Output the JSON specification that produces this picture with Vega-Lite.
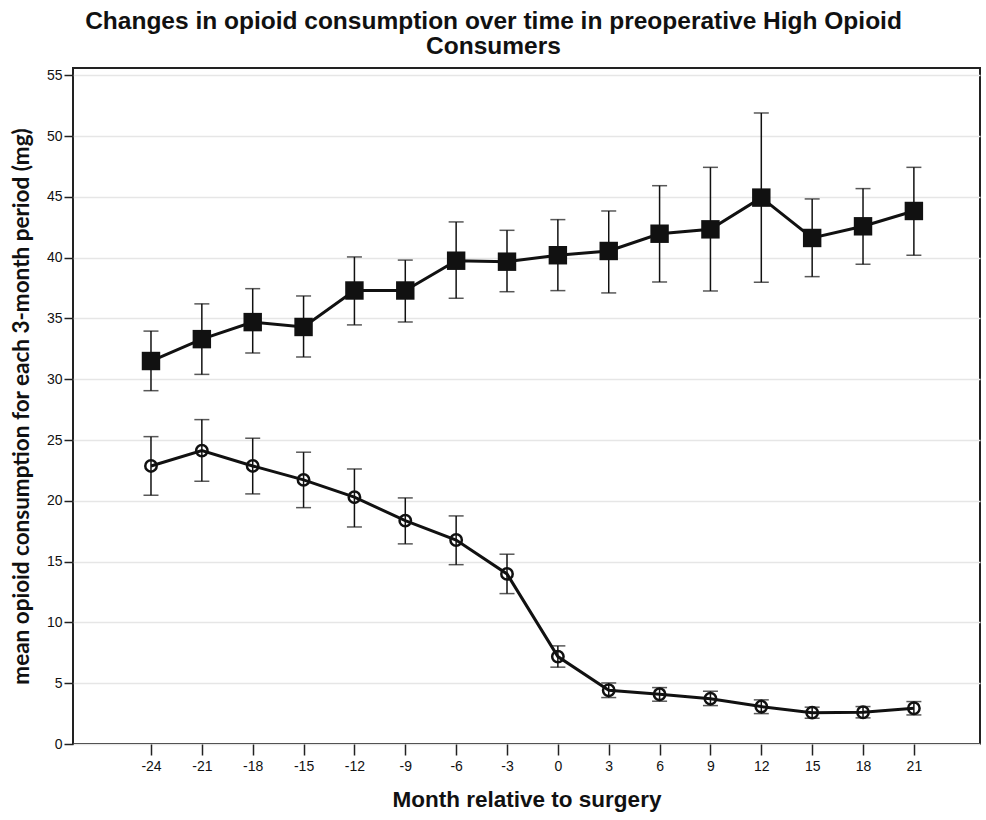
{
  "$schema": "https://vega.github.io/schema/vega-lite/v6.json",
  "autosize": {"type": "none"},
  "width": 907,
  "height": 676,
  "padding": {"left": 73, "top": 68, "right": 6, "bottom": 76},
  "background": "white",
  "title": {
    "text": ["Changes in opioid consumption over time in preoperative High Opioid", "Consumers"],
    "anchor": "middle",
    "frame": "group",
    "dx": -33,
    "offset": 9,
    "font": "Liberation Sans",
    "fontSize": 24.5,
    "fontWeight": "bold",
    "lineHeight": 25,
    "color": "#111"
  },
  "config": {
    "view": {"stroke": "#222", "strokeWidth": 2},
    "axis": {
      "labelFont": "Liberation Sans",
      "labelFontSize": 14,
      "labelColor": "#111",
      "tickColor": "#222",
      "tickWidth": 1.5,
      "titleColor": "#111"
    }
  },
  "data": {
    "values": [
      {"month": -24, "group": "upper", "mean": 31.5, "lo": 29.06, "hi": 33.96},
      {"month": -21, "group": "upper", "mean": 33.3, "lo": 30.4, "hi": 36.2},
      {"month": -18, "group": "upper", "mean": 34.7, "lo": 32.16, "hi": 37.45},
      {"month": -15, "group": "upper", "mean": 34.3, "lo": 31.83, "hi": 36.85},
      {"month": -12, "group": "upper", "mean": 37.3, "lo": 34.47, "hi": 40.06},
      {"month": -9, "group": "upper", "mean": 37.3, "lo": 34.71, "hi": 39.8},
      {"month": -6, "group": "upper", "mean": 39.75, "lo": 36.66, "hi": 42.94},
      {"month": -3, "group": "upper", "mean": 39.67, "lo": 37.2, "hi": 42.25},
      {"month": 0, "group": "upper", "mean": 40.2, "lo": 37.29, "hi": 43.13},
      {"month": 3, "group": "upper", "mean": 40.55, "lo": 37.1, "hi": 43.84},
      {"month": 6, "group": "upper", "mean": 41.97, "lo": 38.0, "hi": 45.92},
      {"month": 9, "group": "upper", "mean": 42.33, "lo": 37.26, "hi": 47.43},
      {"month": 12, "group": "upper", "mean": 44.94, "lo": 37.98, "hi": 51.9},
      {"month": 15, "group": "upper", "mean": 41.62, "lo": 38.44, "hi": 44.83},
      {"month": 18, "group": "upper", "mean": 42.58, "lo": 39.46, "hi": 45.68},
      {"month": 21, "group": "upper", "mean": 43.84, "lo": 40.2, "hi": 47.43},
      {"month": -24, "group": "lower", "mean": 22.87, "lo": 20.46, "hi": 25.28},
      {"month": -21, "group": "lower", "mean": 24.13, "lo": 21.61, "hi": 26.68},
      {"month": -18, "group": "lower", "mean": 22.87, "lo": 20.57, "hi": 25.15},
      {"month": -15, "group": "lower", "mean": 21.72, "lo": 19.44, "hi": 24.0},
      {"month": -12, "group": "lower", "mean": 20.3, "lo": 17.85, "hi": 22.62},
      {"month": -9, "group": "lower", "mean": 18.37, "lo": 16.46, "hi": 20.24},
      {"month": -6, "group": "lower", "mean": 16.78, "lo": 14.75, "hi": 18.76},
      {"month": -3, "group": "lower", "mean": 13.99, "lo": 12.37, "hi": 15.61},
      {"month": 0, "group": "lower", "mean": 7.19, "lo": 6.32, "hi": 8.07},
      {"month": 3, "group": "lower", "mean": 4.42, "lo": 3.82, "hi": 5.02},
      {"month": 6, "group": "lower", "mean": 4.09, "lo": 3.52, "hi": 4.64},
      {"month": 9, "group": "lower", "mean": 3.73, "lo": 3.16, "hi": 4.34},
      {"month": 12, "group": "lower", "mean": 3.08, "lo": 2.5, "hi": 3.63},
      {"month": 15, "group": "lower", "mean": 2.58, "lo": 2.12, "hi": 3.03},
      {"month": 18, "group": "lower", "mean": 2.61, "lo": 2.15, "hi": 3.08},
      {"month": 21, "group": "lower", "mean": 2.94, "lo": 2.39, "hi": 3.49}
    ]
  },
  "encoding": {
    "x": {
      "field": "month",
      "type": "quantitative",
      "scale": {"domain": [-28.6, 24.9], "nice": false, "zero": false},
      "axis": {
        "values": [-24, -21, -18, -15, -12, -9, -6, -3, 0, 3, 6, 9, 12, 15, 18, 21],
        "labelExpr": "'' + datum.value",
        "grid": false,
        "domain": false,
        "tickSize": 11,
        "labelPadding": 4,
        "title": "Month relative to surgery",
        "titleFont": "Liberation Sans",
        "titleFontSize": 22.5,
        "titleFontWeight": "bold",
        "titlePadding": 15
      }
    }
  },
  "layer": [
    {
      "mark": {"type": "line", "color": "#111", "strokeWidth": 3},
      "encoding": {
        "y": {
          "field": "mean",
          "type": "quantitative",
          "scale": {"domain": [0, 55.6], "nice": false, "zero": true},
          "axis": {
            "values": [0, 5, 10, 15, 20, 25, 30, 35, 40, 45, 50, 55],
            "grid": true,
            "gridColor": "#e6e6e6",
            "gridWidth": 1.5,
            "domain": false,
            "tickSize": 9,
            "labelPadding": 2,
            "title": "mean opioid consumption for each 3-month period (mg)",
            "titleFont": "Lato",
            "titleFontSize": 22.5,
            "titleFontWeight": "bold",
            "titlePadding": 13
          }
        },
        "detail": {"field": "group"}
      }
    },
    {
      "mark": {"type": "rule", "color": "#111", "strokeWidth": 1.5},
      "encoding": {
        "y": {"field": "lo", "type": "quantitative"},
        "y2": {"field": "hi"}
      }
    },
    {
      "mark": {"type": "tick", "orient": "horizontal", "color": "#111", "size": 15, "thickness": 1.5},
      "encoding": {"y": {"field": "lo", "type": "quantitative"}}
    },
    {
      "mark": {"type": "tick", "orient": "horizontal", "color": "#111", "size": 15, "thickness": 1.5},
      "encoding": {"y": {"field": "hi", "type": "quantitative"}}
    },
    {
      "transform": [{"filter": "datum.group === 'upper'"}],
      "mark": {"type": "point", "shape": "square", "filled": true, "color": "#111", "size": 340, "opacity": 1},
      "encoding": {"y": {"field": "mean", "type": "quantitative"}}
    },
    {
      "transform": [{"filter": "datum.group === 'lower'"}],
      "mark": {"type": "point", "shape": "circle", "filled": false, "color": "#111", "size": 130, "strokeWidth": 2.5, "opacity": 1},
      "encoding": {"y": {"field": "mean", "type": "quantitative"}}
    }
  ]
}
